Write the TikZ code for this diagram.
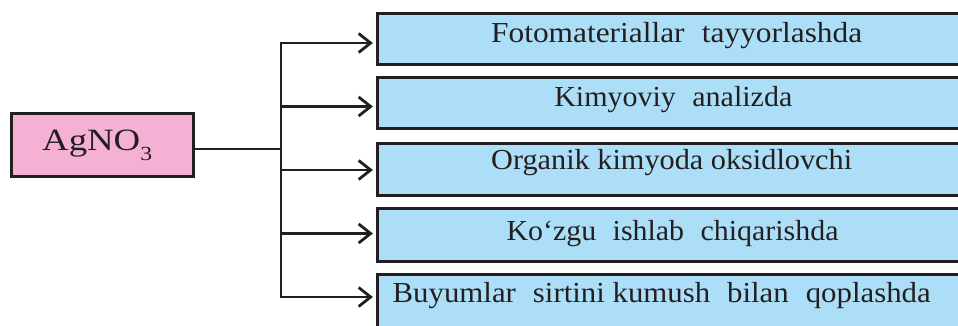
\documentclass[tikz,border=0pt]{standalone}
\usepackage{fontspec}
\setmainfont{Liberation Serif}
\usetikzlibrary{arrows.meta}
\definecolor{pinkfill}{RGB}{244,177,212}
\definecolor{bluefill}{RGB}{172,222,248}
\definecolor{ink}{RGB}{35,31,32}
\newcommand{\wsp}{\hspace{0.55em}}
\newcommand{\fitw}[2]{\resizebox{#1}{\height}{#2}}
\tikzset{
  usebox/.style={draw=ink, line width=3pt, fill=bluefill, inner sep=0pt, minimum width=598.6pt},
  agbox/.style={draw=ink, line width=3pt, fill=pinkfill, inner sep=0pt, minimum width=182.2pt, minimum height=63.2pt},
  conn/.style={draw=ink, line width=2.8pt},
  arr/.style={conn, shorten >=3pt, -{Straight Barb[length=12pt,width=19pt,line width=2.8pt]}},
  lbl/.style={anchor=base, inner sep=0pt, text=ink, font=\fontsize{29}{32}\selectfont},
  aglbl/.style={anchor=base west, inner sep=0pt, text=ink, font=\fontsize{31}{34}\selectfont},
}
\begin{document}
\begin{tikzpicture}[x=1pt,y=-1pt]
\useasboundingbox (0,0) rectangle (958,326);
\clip (0,0) rectangle (958,326);
% AgNO3 box
\node[agbox] (ag) at (102.5,145) {};
\node[aglbl] (agt) at (42,150) {\fitw{110pt}{AgNO\raisebox{-10pt}{\fontsize{20}{20}\selectfont 3}}};
% use boxes
\node[usebox, minimum height=51.2pt] (b1) at (676.7,39) {};
\node[usebox, minimum height=51.2pt] (b2) at (676.7,103) {};
\node[usebox, minimum height=52.2pt] (b3) at (676.7,169.5) {};
\node[usebox, minimum height=53.2pt] (b4) at (676.7,235) {};
\node[usebox, minimum height=80pt] (b5) at (676.7,314.4) {};
\node[lbl] (t1) at (676.7,43) {\fitw{371pt}{Fotomateriallar\wsp tayyorlashda}};
\node[lbl] (t2) at (673.3,107) {\fitw{238pt}{Kimyoviy\wsp analizda}};
\node[lbl] (t3) at (671.7,169) {\fitw{361pt}{Organik kimyoda oksidlovchi}};
\node[lbl] (t4) at (672.5,240) {\fitw{332pt}{Ko‘zgu\wsp ishlab\wsp chiqarishda}};
\node[lbl] (t5) at (661.7,302) {\fitw{538pt}{Buyumlar\wsp sirtini kumush\wsp bilan\wsp qoplashda}};
% junctions
\coordinate (j1) at (281,43);
\coordinate (j2) at (281,106.5);
\coordinate (j3) at (281,170);
\coordinate (j4) at (281,233.5);
\coordinate (j5) at (281,297);
\coordinate (jm) at (281,149);
% connectors
\draw[conn, line cap=rect] (j1) -- (j5);
\draw[conn] (ag.east |- jm) -- (jm);
\draw[arr] (j1) -- (j1 -| b1.west);
\draw[arr] (j2) -- (j2 -| b2.west);
\draw[arr] (j3) -- (j3 -| b3.west);
\draw[arr] (j4) -- (j4 -| b4.west);
\draw[arr] (j5) -- (j5 -| b5.west);
\end{tikzpicture}
\end{document}
